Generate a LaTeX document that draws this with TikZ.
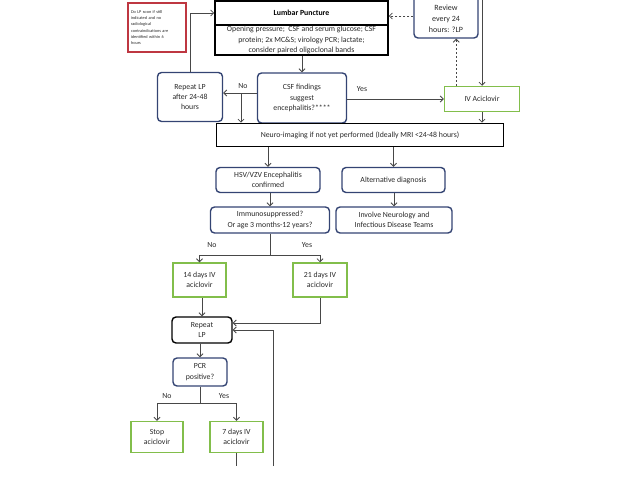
\documentclass[tikz,border=0pt]{standalone}
\usepackage{fontspec}
\setmainfont{Carlito}
\usetikzlibrary{arrows.meta}
\definecolor{boxblue}{RGB}{52,68,115}
\definecolor{boxgreen}{RGB}{130,190,75}
\definecolor{boxred}{RGB}{190,55,65}
\definecolor{inkgrey}{RGB}{40,40,40}

\begin{document}
\begin{tikzpicture}
  [x=1pt,y=-1pt,font=\fontsize{7.8}{10.3}\selectfont,text=inkgrey,
   every node/.style={align=center,inner sep=1pt},
   bluebox/.style={draw=boxblue,line width=1.4pt,rounded corners=4pt},
   greenbox/.style={draw=boxgreen,line width=1.5pt},
   blackbox/.style={draw=black,line width=1.6pt},
   redbox/.style={draw=boxred,line width=1.2pt},
   link/.style={draw=inkgrey!85,line width=0.8pt},
   arr/.style={link,-{Straight Barb[length=3pt,width=6pt]}}]
  \useasboundingbox (0,0) rectangle (638,479);

  \node[redbox,minimum width=58pt,minimum height=49pt,text width=52pt,align=left,
        font=\fontsize{4.3}{6.3}\selectfont] (note) at (157,27.5)
       {Do LP soon if still\\indicated and no\\radiological\\contraindications are\\identified within 6\\hours};
  \node[blackbox,minimum width=173pt,minimum height=24pt,text=black] (lp) at (301.5,13) {\textbf{Lumbar Puncture}};
  \node[blackbox,minimum width=173pt,minimum height=30pt] (lpbody) at (301.5,40)
       {Opening pressure;\ \ CSF and serum glucose; CSF\\protein; 2x MC\&S; virology PCR; lactate;\\consider paired oligoclonal bands};
  \node[bluebox,minimum width=64pt,minimum height=44pt,font=\fontsize{8}{11}\selectfont] (review) at (446,16)
       {\mbox{}\\Review\\every 24\\hours: ?LP};
  \node[bluebox,minimum width=65pt,minimum height=49pt] (rlp) at (190,97) {Repeat LP\\after 24-48\\hours};
  \node[bluebox,minimum width=89pt,minimum height=50pt] (csf) at (302,98) {CSF findings\\suggest\\encephalitis?****};
  \node[greenbox,minimum width=75pt,minimum height=25pt] (iv) at (482,99) {IV Aciclovir};
  \node[blackbox,minimum width=287pt,minimum height=23pt] (neuro) at (360,135)
       {Neuro-imaging if not yet performed (Ideally MRI <24-48 hours)};
  \node[bluebox,minimum width=104pt,minimum height=25pt] (hsv) at (268,180) {HSV/VZV Encephalitis\\confirmed};
  \node[bluebox,minimum width=103pt,minimum height=25pt] (alt) at (393.5,180) {Alternative diagnosis};
  \node[bluebox,minimum width=119pt,minimum height=26pt] (imm) at (270,220) {Immunosuppressed?\\Or age 3 months-12 years?};
  \node[bluebox,minimum width=116pt,minimum height=26pt] (inv) at (394,220) {Involve Neurology and\\Infectious Disease Teams};
  \node[greenbox,minimum width=53pt,minimum height=34pt] (d14) at (199.5,280) {14 days IV\\aciclovir};
  \node[greenbox,minimum width=54pt,minimum height=34pt] (d21) at (320,280) {21 days IV\\aciclovir};
  \node[draw=black,line width=1.4pt,rounded corners=4pt,minimum width=60pt,minimum height=26pt] (rep) at (202,330) {Repeat\\LP};
  \node[bluebox,minimum width=54pt,minimum height=28pt] (pcr) at (200,372) {PCR\\positive?};
  \node[greenbox,minimum width=52pt,minimum height=31pt] (stop) at (157,437) {Stop\\aciclovir};
  \node[greenbox,minimum width=53pt,minimum height=31pt] (d7) at (236.5,437) {7 days IV\\aciclovir};

  \node (nocsf) at (243,86) {No};
  \node (yescsf) at (362,89) {Yes};
  \node (noimm) at (212,245) {No};
  \node (yesimm) at (307,245) {Yes};
  \node (nopcr) at (167,396) {No};
  \node (yespcr) at (224,396) {Yes};

  \coordinate (ivtop) at (482,-5);
  \coordinate (nosplit) at (241,93);
  \coordinate (loopin) at (273,466);
  \coordinate (d7end) at (236.5,466);

  \foreach \from/\to in {lpbody/csf,neuro/hsv,neuro/alt,hsv/imm,alt/inv,d14/rep,rep/pcr}
    \draw[arr] (\from.south -| \to) -- (\to.north);

  \draw[arr] (rlp.north) |- (lp.west);
  \draw[arr,dash pattern=on 2pt off 2pt] (review.west) -- (review.west -| lp.east);
  \draw[arr,dash pattern=on 2pt off 2pt] ([xshift=12.5pt]iv.north west) -- ([xshift=12.5pt]iv.north west |- review.south);
  \draw[arr] (ivtop) -- (iv.north);
  \draw[arr] (csf.east |- iv.west) -- (iv.west);
  \draw[arr] (csf.west |- nosplit) -- (rlp.east |- nosplit);
  \draw[arr] (nosplit) -- (nosplit |- neuro.north);
  \draw[arr] (iv.south) -- (iv.south |- neuro.north);

  \draw[link] (imm.south) -- ++(0,22) coordinate (immsplit);
  \draw[arr] (immsplit) -| (d14.north);
  \draw[arr] (immsplit) -| (d21.north);
  \draw[arr] (d21.south) |- ([yshift=7pt]rep.east);
  \draw[arr] (loopin) |- (rep.east);

  \draw[link] (pcr.south) -- ++(0,17) coordinate (pcrsplit);
  \draw[arr] (pcrsplit) -| (stop.north);
  \draw[arr] (pcrsplit) -| (d7.north);
  \draw[link] (d7.south) -- (d7end);
\end{tikzpicture}
\end{document}
